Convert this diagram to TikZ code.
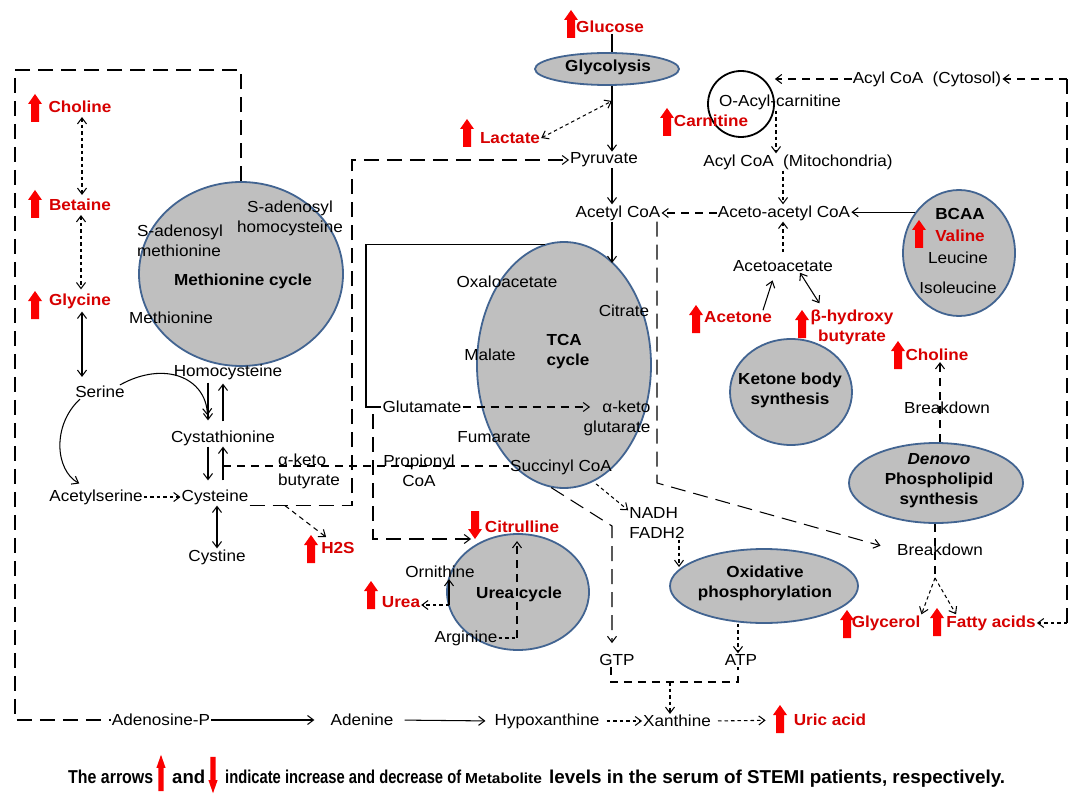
\documentclass[tikz,border=0pt]{standalone}
\usepackage{fontspec}
\usepackage{graphicx}
\setmainfont{Liberation Sans}[FakeStretch=1.07]
\usetikzlibrary{arrows.meta,shapes.geometric}
\definecolor{cycfill}{RGB}{191,191,191}
\definecolor{cycline}{RGB}{66,100,145}
\definecolor{redtxt}{RGB}{215,0,0}
\definecolor{redarr}{RGB}{250,0,0}
\newcommand\myfs{\fontsize{16}{20}\selectfont}
\tikzset{
  redup/.pic={\fill[redarr] (-4,14) -- (-4,-4) -- (-7,-4) -- (0,-14) -- (7,-4) -- (4,-4) -- (4,14) -- cycle;},
  reddown/.pic={\fill[redarr] (-4,-14) -- (-4,4) -- (-7,4) -- (0,14) -- (7,4) -- (4,4) -- (4,-14) -- cycle;},
  lbl/.style={font=\myfs, inner sep=1pt, align=center},
  bld/.style={font=\myfs\bfseries, inner sep=1pt, align=center},
  redlbl/.style={font=\myfs\bfseries, text=redtxt, inner sep=1pt, align=center},
  cyc/.style={ellipse, draw=cycline, fill=cycfill, line width=1.8pt, inner sep=0pt},
  conn/.style={line width=1.05pt},
  longdash/.style={conn, dash pattern=on 15pt off 8pt},
  meddash/.style={conn, dash pattern=on 8pt off 6pt},
  dots/.style={conn, dash pattern=on 3.5pt off 3pt},
  foot/.style={inner sep=0pt, anchor=base west},
}
\begin{document}
\begin{tikzpicture}[x=1pt,y=-1pt,>={Straight Barb[length=6pt,width=9pt]}]
\useasboundingbox (0,0) rectangle (1073,794);
\fill[white] (0,0) rectangle (1073,794);

% ---------- cycles ----------
\node[cyc, minimum width=204pt, minimum height=184pt] (metc) at (241,274) {};
\node[cyc, minimum width=144pt, minimum height=32pt] (glyc) at (607,69) {};
\node[cyc, minimum width=174pt, minimum height=246pt] (tca) at (564,365) {};
\node[cyc, minimum width=112pt, minimum height=126pt] (bcaa) at (959,253) {};
\node[cyc, minimum width=122pt, minimum height=106pt] (keto) at (791,392) {};
\node[cyc, minimum width=174pt, minimum height=80pt] (phos) at (936,483) {};
\node[cyc, minimum width=188pt, minimum height=74pt] (oxph) at (764,586) {};
\node[cyc, minimum width=142pt, minimum height=116pt] (ureacyc) at (518,592) {};
\node[circle, draw, line width=1.8pt, minimum size=66pt, inner sep=0pt] (oacyl) at (741,104) {};

% ---------- left ----------
\node[redlbl] (choline1) at (80,107) {Choline};
\pic at (35,108) {redup};
\node[redlbl] (betaine) at (80,205) {Betaine};
\pic at (35,204) {redup};
\node[redlbl] (glycine) at (80,301) {Glycine};
\pic at (35,305) {redup};
\node[lbl] (serine) at (100,392) {Serine};
\node[lbl, align=left] (sam) at (180,241) {S-adenosyl\\methionine};
\node[lbl] (sah) at (290,218) {S-adenosyl\\homocysteine};
\node[bld] (mettxt) at (243,281) {Methionine cycle};
\node[lbl] (met) at (171,318) {Methionine};
\node[lbl] (hcy) at (228,372) {Homocysteine};
\node[lbl] (cysta) at (223,438) {Cystathionine};
\node[lbl] (cys) at (215,497) {Cysteine};
\node[lbl] (cystine) at (217,557) {Cystine};
\node[lbl] (acser) at (96,497) {Acetylserine};
\node[lbl, align=left] (akb) at (309,471) {α-keto\\butyrate};
\node[redlbl] (h2s) at (338,548) {H2S};
\pic at (311,549) {redup};

% ---------- top ----------
\node[redlbl] (glucose) at (610,27) {Glucose};
\pic at (571,24) {redup};
\node[bld] (glyctxt) at (608,67) {Glycolysis};
\node[redlbl] (lactate) at (510,138) {Lactate};
\pic at (467,133) {redup};
\node[lbl] (pyr) at (604,160) {Pyruvate};
\node[lbl] (acoa) at (618,213) {Acetyl CoA};
\node[redlbl] (carn) at (711,121) {Carnitine};
\pic at (667,122) {redup};
\node[lbl] (oacyltxt) at (780,102) {O-Acyl-carnitine};
\node[lbl] (acyt) at (927,79) {Acyl CoA\ \ (Cytosol)};
\node[lbl] (amito) at (798,162) {Acyl CoA\ \ (Mitochondria)};
\node[lbl] (aacoa) at (784,213) {Aceto-acetyl CoA};
\node[lbl] (acac) at (783,266) {Acetoacetate};
\node[redlbl] (acetone) at (738,317) {Acetone};
\pic at (696,319) {redup};
\node[redlbl] (bhb) at (852,327) {β-hydroxy\\butyrate};
\pic at (802,324) {redup};
\node[bld] (bcaatxt) at (960,214) {BCAA};
\node[redlbl] (valine) at (960,236) {Valine};
\pic at (919,234) {redup};
\node[lbl] (leu) at (958,258) {Leucine};
\node[lbl] (ile) at (958,288) {Isoleucine};
\node[bld] (ketotxt) at (790,390) {Ketone body\\synthesis};
\node[redlbl] (choline2) at (937,355) {Choline};
\pic at (898,355) {redup};
\node[lbl] (bd1) at (947,408) {Breakdown};
\node[bld] (phostxt) at (939,481) {\textit{Denovo}\\Phospholipid\\synthesis};
\node[lbl] (bd2) at (940,550) {Breakdown};
\node[redlbl] (glycerol) at (886,623) {Glycerol};
\pic at (847,624) {redup};
\node[redlbl] (fatty) at (991,623) {Fatty acids};
\pic at (937,622) {redup};

% ---------- TCA ----------
\node[lbl] (oaa) at (507,282) {Oxaloacetate};
\node[lbl] (cit) at (624,311) {Citrate};
\node[bld, align=left] (tcatxt) at (568,352) {TCA\\cycle};
\node[lbl] (mal) at (490,355) {Malate};
\node[lbl, align=right] (akg) at (617,418) {α-keto\\glutarate};
\node[lbl] (fum) at (494,437) {Fumarate};
\node[lbl] (succ) at (561,467) {Succinyl CoA};
\node[lbl] (glu) at (422,407) {Glutamate};
\node[lbl] (prop) at (419,471) {Propionyl\\CoA};
\node[lbl, align=left] (nadh) at (657,523) {NADH\\FADH2};
\node[bld] (oxtxt) at (765,583) {Oxidative\\phosphorylation};
\node[lbl] (gtp) at (617,660) {GTP};
\node[lbl] (atp) at (741,660) {ATP};

% ---------- urea ----------
\node[bld] (ureatxt) at (519,594) {Urea cycle};
\node[lbl] (orn) at (440,572) {Ornithine};
\node[lbl] (arg) at (466,638) {Arginine};
\node[redlbl] (citr) at (522,527) {Citrulline};
\pic at (475,525) {reddown};
\node[redlbl] (urea) at (401,602) {Urea};
\pic at (371,595) {redup};

% ---------- bottom ----------
\node[lbl] (adp) at (161,720) {Adenosine-P};
\node[lbl] (ade) at (362,720) {Adenine};
\node[lbl] (hyp) at (547,721) {Hypoxanthine};
\node[lbl] (xan) at (677,721) {Xanthine};
\node[redlbl] (uric) at (830,720) {Uric acid};
\pic at (780,719) {redup};

% ---------- footnote ----------
\node[foot] (f1) at (68,783) {\resizebox{85pt}{13.5pt}{\bfseries The arrows}};
\pic[xscale=0.65,yscale=1.3] at (161,773) {redup};
\node[foot] (f2) at (172,783) {\resizebox{33pt}{13.5pt}{\bfseries and}};
\pic[xscale=0.65,yscale=1.3] at (213,775) {reddown};
\node[foot] (f3) at (225,783) {\resizebox{236pt}{13.5pt}{\bfseries indicate increase and decrease of}};
\node[foot] (f4) at (465,783) {\fontsize{14.5}{17}\selectfont\bfseries Metabolite};
\node[foot] (f5) at (549,783) {\resizebox{456pt}{13.5pt}{\bfseries levels in the serum of STEMI patients, respectively.}};

% ================= connectors =================
% left
\draw[dots,<->,shorten <=3pt,shorten >=3pt] ([xshift=2pt]choline1.south) -- ([xshift=2pt]choline1.south |- betaine.north);
\draw[dots,<->,shorten <=3pt,shorten >=3pt] ([xshift=1pt]betaine.south) -- ([xshift=1pt]betaine.south |- glycine.north);
\draw[conn,<->,shorten <=2pt,shorten >=8pt] ([xshift=2pt]glycine.south) -- ([xshift=2pt]glycine.south |- serine.north);
\draw[conn,->,shorten >=14pt] ([xshift=-6pt]serine.north east) .. controls (165,360) and (206,378) .. ([xshift=-15pt]cysta.north);
\draw[conn,->,shorten >=10pt] ([xshift=-20pt]serine.south) .. controls (52,425) and (55,470) .. ([xshift=-8pt]acser.north);
\draw[dots,->] (acser.east) -- (cys.west);
\draw[conn,->,shorten >=9pt,shorten <=2pt] ([xshift=-20pt]hcy.south) -- ([xshift=-20pt]hcy.south |- cysta.north);
\draw[conn,->,shorten <=8pt,shorten >=3pt] (cysta.north) -- (cysta.north |- hcy.south);
\draw[conn,->,shorten >=8pt] ([xshift=-15pt]cysta.south) -- ([xshift=-15pt]cysta.south |- cys.north);
\draw[conn,->,shorten <=8pt] ([xshift=8pt]cys.north) -- ([xshift=8pt]cys.north |- cysta.south);
\draw[conn,<->] ([xshift=2pt]cys.south) -- ([xshift=2pt]cys.south |- cystine.north);
\coordinate (akbst) at (223,466);
\draw[meddash] (akbst) -- (akbst -| succ.west);
\coordinate (cysr) at (352,503);
\draw[longdash,->] (cys.south east) -- (cys.south east -| cysr) -- (cysr |- pyr.west) -- (pyr.west);
\draw[conn,dash pattern=on 5pt off 4pt,->] ([xshift=70pt]cys.south) -- ([xshift=6pt,yshift=4pt]h2s.north west);
\coordinate (regtop) at (15,70);
\draw[longdash] (metc.north) -- (metc.north |- regtop) -- (regtop) -- (regtop |- adp.west) -- (adp.west);

% top
\draw[conn] ([xshift=2pt]glucose.south) -- ([xshift=2pt]glucose.south |- glyc.north);
\draw[conn,->] ([xshift=5pt]glyc.south) -- ([xshift=5pt]glyc.south |- pyr.north);
\coordinate (glyline) at (612,101);
\draw[dots,<->] (lactate.east) -- (glyline);
\draw[conn,->] ([xshift=8pt]pyr.south) -- ([xshift=8pt]pyr.south |- acoa.north);
\coordinate (tcain) at (612,263);
\draw[conn,->] ([xshift=-6pt]acoa.south) -- (tcain);
\draw[meddash,->] (acyt.west) -- (acyt.west -| oacyl.east);
\draw[dots,->] ([xshift=-4pt]oacyltxt.south) -- ([xshift=-4pt]oacyltxt.south |- amito.north);
\draw[dots,->] ([xshift=-15pt]amito.south) -- ([xshift=-15pt]amito.south |- aacoa.north);
\draw[meddash,->] (aacoa.west) -- (acoa.east);
\draw[conn,->] (bcaa.137) -- (bcaa.137 -| aacoa.east);
\draw[dots,->,shorten <=7pt] (acac.north) -- (acac.north |- aacoa.south);
\draw[conn,->,shorten >=8pt] ([xshift=-10pt]acetone.north east) -- ([xshift=-8pt]acac.south);
\draw[conn,<->] ([xshift=17pt]acac.south) -- ([xshift=10pt,yshift=5pt]bhb.north west);

% right
\draw[meddash,->] ([xshift=4pt]phos.north) -- ([xshift=4pt]phos.north |- choline2.south);
\coordinate (fork) at (935,578);
\draw[meddash] (phos.south -| fork) -- (fork);
\draw[dots,->] (fork) -- (glycerol.north east);
\draw[dots,->] (fork) -- ([xshift=11pt]fatty.north west);
\coordinate (rtop) at (1067,79);
\coordinate (rbot) at (1067,623);
\draw[meddash,->] (rtop) -- (acyt.east);
\draw[longdash] (rtop) -- (rbot);
\draw[dots,->] (rbot) -- (fatty.east);
\coordinate (acb) at (657,483);
\draw[longdash,->,shorten >=16pt] ([xshift=39pt]acoa.south) -- (acb) -- (bd2.west);

% TCA
\coordinate (glubr) at (366,243);
\draw[conn] (tca.99) -- (tca.99 -| glubr) -- (glubr |- glu.west) -- (glu.west);
\coordinate (akgin) at (590,407);
\draw[meddash,->] (glu.east) -- (akgin);
\coordinate (ureain) at (471,539);
\draw[longdash,->] ([xshift=-49pt]glu.south) -- ([xshift=-49pt]glu.south |- ureain) -- (ureain);
\draw[dots,->,shorten <=13pt] ([xshift=25pt]succ.south) -- ([yshift=-4pt]nadh.north west);
\coordinate (oxin) at (679,567);
\draw[dots,->] ([xshift=22pt]nadh.south) -- (oxin);
\coordinate (gbend) at (612,526);
\draw[longdash,->,shorten >=10pt] (tca.264) -- (gbend) -- (gbend |- gtp.north);
\draw[dots,->] ([xshift=-26pt]oxph.south) -- ([xshift=-26pt]oxph.south |- atp.north);
\coordinate (brl) at (611,682);
\coordinate (brr) at (738,682);
\coordinate (brm) at (670,682);
\draw[meddash] ([xshift=-6pt]gtp.south) -- (brl) -- (brr) -- ([xshift=-3pt]atp.south);
\draw[dots,->] (brm) -- (brm |- xan.north);

% urea
\coordinate (argc) at (517,638);
\draw[dots] (arg.east) -- (argc);
\draw[meddash,->,shorten >=7pt] (argc) -- (argc |- citr.south);
\coordinate (ornb) at (449,605);
\draw[conn,->] (ornb) -- (ornb |- orn.south);
\draw[dots,->] (ornb) -- (ornb -| urea.east);

% bottom
\draw[conn,->,shorten >=15pt] (adp.east) -- (ade.west);
\draw[conn,->,shorten <=10pt,shorten >=8pt] (ade.east) -- (hyp.west);
\draw[dots,->,shorten <=6pt] (hyp.east) -- (xan.west);
\draw[dots,->,shorten <=6pt,shorten >=27pt] (xan.east) -- (uric.west);
\end{tikzpicture}
\end{document}
